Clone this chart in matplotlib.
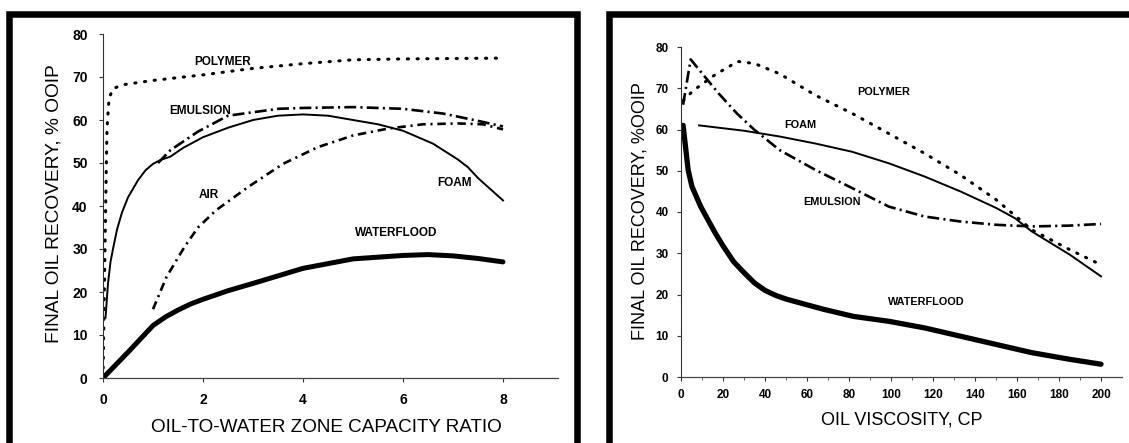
import matplotlib
matplotlib.use("Agg")
import matplotlib.pyplot as plt
from matplotlib.lines import Line2D

plt.rcParams['font.family'] = ['Liberation Sans', 'DejaVu Sans']

# ---- left panel: oil-to-water zone capacity ratio ----
wf_x = [0, 0.5, 1, 1.25, 1.5, 1.75, 2, 2.5, 3, 4, 5, 6, 6.5, 7, 7.5, 8]
wf_y = [0, 6, 12.2, 14.2, 15.8, 17.2, 18.3, 20.3, 22, 25.5, 27.7, 28.5, 28.7, 28.4, 27.8, 27]

foam_x = [0.05, 0.1, 0.15, 0.2, 0.28, 0.38, 0.5, 0.7, 0.85, 1.0, 1.15, 1.35, 1.6, 2,
          2.5, 3, 3.5, 4, 4.5, 5, 5.5, 6, 6.6, 7.1, 7.3, 7.5, 8]
foam_y = [14, 22, 27, 30, 34.5, 38.5, 42, 46, 48.3, 49.8, 50.7, 51.5, 53.5, 56,
          58.2, 60, 61, 61.3, 61, 60, 59, 57.5, 54.5, 50.8, 49, 46.5, 41.3]

emul_x = [1.1, 1.35, 1.9, 2.5, 3.5, 4, 5, 6, 6.8, 7.5, 8]
emul_y = [50, 53, 57.3, 61, 62.6, 62.8, 63, 62.6, 61.5, 59.8, 58.5]

air_x = [1.0, 1.27, 1.63, 1.9, 2.26, 2.9, 3.6, 4.3, 5, 5.7, 6.4, 7.1, 7.6, 8]
air_y = [16, 23.5, 30.5, 35, 39, 44.4, 49.8, 53.7, 56.4, 58, 59, 59.2, 59, 57.8]

poly_x = [0, 0.02, 0.04, 0.06, 0.08, 0.12, 0.2, 0.4, 1, 2, 3, 4, 5, 6, 7, 8]
poly_y = [0, 15, 30, 45, 58, 65, 67.3, 68.2, 69.2, 70.5, 72, 73.1, 74, 74.2, 74.3, 74.4]

left_labels = ["POLYMER", "EMULSION", "AIR", "FOAM", "WATERFLOOD"]
left_label_x = [2.4, 1.94, 2.12, 7.03, 5.87]
left_label_y = [73.5, 62, 42.5, 45.3, 33.7]

# ---- right panel: oil viscosity ----
wf2_x = [1, 3.4, 5.2, 9.4, 16.3, 20, 25, 30, 35, 40, 45, 50, 60, 68, 82, 99,
         116, 133, 150, 167, 185, 200]
wf2_y = [61, 50.2, 46.2, 41.3, 34.9, 31.8, 28, 25.3, 22.8, 21, 19.8, 18.9, 17.5,
         16.4, 14.7, 13.5, 11.9, 9.9, 7.9, 5.9, 4.3, 3.1]

foam2_x = [8.6, 30, 47, 64, 81.5, 99, 116, 133, 150, 159, 167, 185, 200]
foam2_y = [61, 59.7, 58.3, 56.6, 54.6, 51.8, 48.6, 45, 41, 38.5, 35.3, 29.7, 24.4]

poly2_x = [1, 6, 16, 27, 35, 47, 64, 81.5, 99, 116, 133, 150, 167, 185, 200]
poly2_y = [67, 69.5, 73.2, 76.5, 76, 73.5, 68.3, 63.9, 59, 54.2, 49, 43, 35.7, 30.9, 27.2]

emul2_x = [1, 4.6, 9.4, 18, 26.6, 35, 47, 64, 81.5, 99, 116, 133, 150, 167, 185, 200]
emul2_y = [66, 77, 74, 68.7, 63.9, 59.9, 55, 50.2, 45.8, 41.3, 38.9, 37.7, 36.9, 36.5, 36.7, 37.1]

right_labels = ["POLYMER", "FOAM", "EMULSION", "WATERFLOOD"]
right_label_x = [96.6, 57, 72, 117]
right_label_y = [69.1, 61, 42.5, 18.1]

W, H = 1129, 443


def fx(px):
    return px / W


def fy(py):
    return 1 - py / H


fig = plt.figure(figsize=(W / 100, H / 100), dpi=100)

DOT = dict(color='black', lw=2.2, linestyle=(0, (0.4, 2.8)), dash_capstyle='round')
DASHDOT = dict(color='black', lw=1.9, linestyle=(0, (4.5, 1.6, 0.8, 1.6)))
AIRSTYLE = dict(color='black', lw=1.9, linestyle=(0, (3.2, 1.8, 0.8, 1.8)))


def style_axes(ax, tick_size, pad):
    for s in ('top', 'right'):
        ax.spines[s].set_visible(False)
    ax.spines['left'].set_linewidth(0.8)
    ax.spines['left'].set_color('#333333')
    ax.spines['bottom'].set_linewidth(0.9)
    ax.spines['bottom'].set_color('#444444')
    ax.tick_params(axis='both', length=3, width=0.8, color='#333333',
                   labelsize=tick_size, pad=pad)
    for t in ax.get_xticklabels() + ax.get_yticklabels():
        t.set_fontweight('bold')
    ax.set_ylim(0, 80)
    ax.set_yticks(range(0, 81, 10))


# left
ax1 = fig.add_axes([fx(103), fy(378), 455 / W, 344 / H])
ax1.plot(wf_x, wf_y, color='black', lw=3.6, solid_capstyle='round')
ax1.plot(foam_x, foam_y, color='black', lw=1.4)
ax1.plot(emul_x, emul_y, **DASHDOT)
ax1.plot(air_x, air_y, **AIRSTYLE)
ax1.plot(poly_x, poly_y, **DOT)
ax1.set_xlim(0, 9.1)
ax1.set_xticks([0, 2, 4, 6, 8])
style_axes(ax1, 10, 8)
for lab, x, y in zip(left_labels, left_label_x, left_label_y):
    ax1.text(x, y, lab, fontsize=8.5, fontweight='bold', ha='center', va='center')
ax1.set_ylabel("FINAL OIL RECOVERY, % OOIP", fontsize=13.8, va='center')
ax1.yaxis.set_label_coords((54 - 103) / 455, (378 - 204) / 344)
ax1.set_xlabel("OIL-TO-WATER ZONE CAPACITY RATIO", fontsize=13.6, va='center')
ax1.xaxis.set_label_coords((326 - 103) / 455, (378 - 428) / 344)

# right
ax2 = fig.add_axes([fx(681), fy(377), 441 / W, 330 / H])
ax2.plot(wf2_x, wf2_y, color='black', lw=3.8, solid_capstyle='round')
ax2.plot(foam2_x, foam2_y, color='black', lw=1.4)
ax2.plot(emul2_x, emul2_y, **DASHDOT)
ax2.plot(poly2_x, poly2_y, **DOT)
ax2.set_xlim(0, 210)
ax2.set_xticks(range(0, 201, 20))
ax2.set_xticks(range(10, 201, 20), minor=True)
ax2.tick_params(axis='x', which='minor', length=2, width=0.6, color='#444444')
style_axes(ax2, 8.5, 6)
for lab, x, y in zip(right_labels, right_label_x, right_label_y):
    ax2.text(x, y, lab, fontsize=7.8, fontweight='bold', ha='center', va='center')
ax2.set_ylabel("FINAL OIL RECOVERY, %OOIP", fontsize=13, va='center')
ax2.yaxis.set_label_coords((640 - 681) / 441, (377 - 211) / 330)
ax2.set_xlabel("OIL VISCOSITY, CP", fontsize=13, va='center')
ax2.xaxis.set_label_coords((902 - 681) / 441, (377 - 420) / 330)

# thick frames around each panel
frame = dict(color='black', lw=4.7, solid_joinstyle='miter', transform=fig.transFigure)
fig.add_artist(Line2D([fx(9), fx(9), fx(576.5), fx(576.5)],
                      [fy(460), fy(14), fy(14), fy(460)], **frame))
fig.add_artist(Line2D([fx(608.5), fx(608.5), fx(1140)],
                      [fy(460), fy(14), fy(14)], **frame))

fig.savefig("out.png", dpi=100)
